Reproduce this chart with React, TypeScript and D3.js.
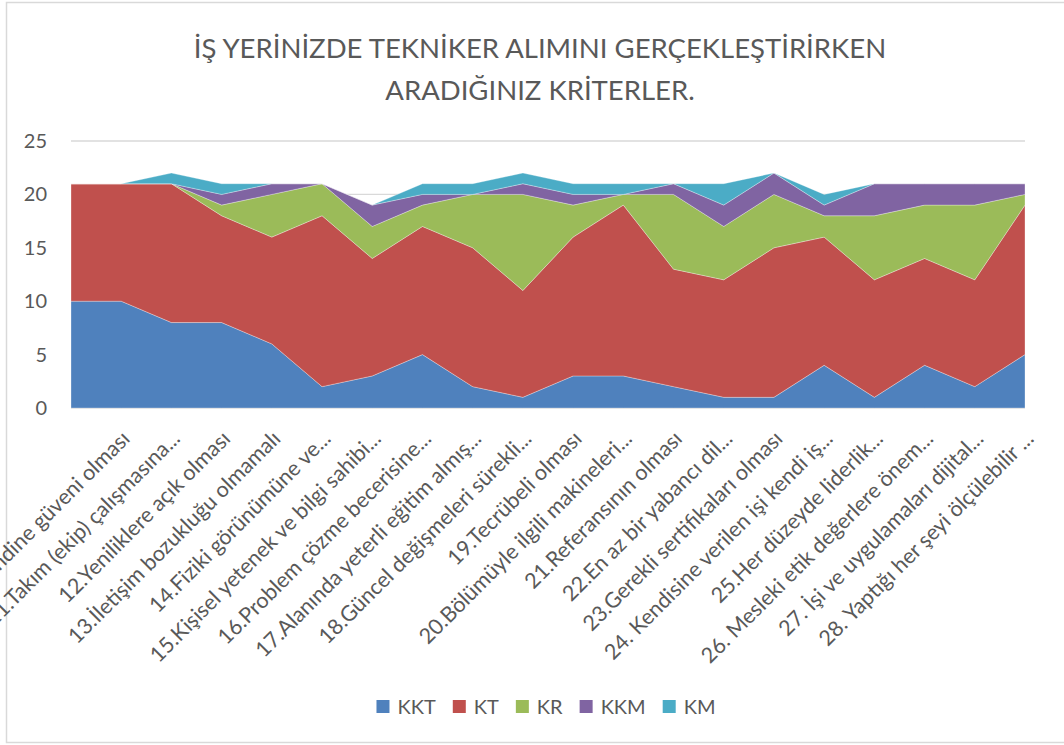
import React from "react";
import * as d3 from "d3";

const categories = [
  "",
  "10.Kendine güveni olması",
  "11.Takım (ekip) çalışmasına...",
  "12.Yeniliklere açık olması",
  "13.İletişim bozukluğu olmamalı",
  "14.Fiziki görünümüne ve...",
  "15.Kişisel yetenek ve bilgi sahibi...",
  "16.Problem çözme becerisine...",
  "17.Alanında yeterli eğitim almış...",
  "18.Güncel değişmeleri sürekli...",
  "19.Tecrübeli olması",
  "20.Bölümüyle ilgili makineleri...",
  "21.Referansının olması",
  "22.En az bir yabancı dil...",
  "23.Gerekli sertifikaları olması",
  "24. Kendisine verilen işi kendi iş...",
  "25.Her düzeyde liderlik...",
  "26. Mesleki etik değerlere önem...",
  "27. İşi ve uygulamaları dijital...",
  "28. Yaptığı her şeyi ölçülebilir ...",
];

const KKT = [10, 10, 8, 8, 6, 2, 3, 5, 2, 1, 3, 3, 2, 1, 1, 4, 1, 4, 2, 5];
const KT = [11, 11, 13, 10, 10, 16, 11, 12, 13, 10, 13, 16, 11, 11, 14, 12, 11, 10, 10, 14];
const KR = [0, 0, 0, 1, 4, 3, 3, 2, 5, 9, 3, 1, 7, 5, 5, 2, 6, 5, 7, 1];
const KKM = [0, 0, 0, 1, 1, 0, 2, 1, 0, 1, 1, 0, 1, 2, 2, 1, 3, 2, 2, 1];
const KM = [0, 0, 1, 1, 0, 0, 0, 1, 1, 1, 1, 1, 0, 2, 0, 1, 0, 0, 0, 0];

const seriesNames = ["KKT", "KT", "KR", "KKM", "KM"];
const seriesValues = [KKT, KT, KR, KKM, KM];
const colors = ["#4F81BD", "#C0504D", "#9BBB59", "#8064A2", "#4BACC6"];
const yTicks = [0, 5, 10, 15, 20, 25];
const titleLines = ["İŞ YERİNİZDE TEKNİKER ALIMINI GERÇEKLEŞTİRİRKEN", "ARADIĞINIZ KRİTERLER."];

const W = 1064;
const H = 745;
const FONT = "Lato, 'Open Sans', sans-serif";
const TXT = "#595959";

function measure(text: string, size: number) {
  const c = document.createElement("canvas");
  const ctx = c.getContext("2d");
  if (!ctx) return text.length * size * 0.55;
  ctx.font = `${size}px Lato`;
  return ctx.measureText(text).width;
}

export default function App() {
  const rows = categories.map((c, i) => {
    const r: any = { cat: i };
    seriesNames.forEach((s, j) => (r[s] = seriesValues[j][i]));
    return r;
  });
  const stack = d3.stack<any>().keys(seriesNames)(rows);

  const x = d3.scaleLinear().domain([0, categories.length - 1]).range([71, 1025]);
  const y = d3.scaleLinear().domain([0, 25]).range([408, 141]);

  const area = d3
    .area<any>()
    .x((d) => x(d.data.cat))
    .y0((d) => y(d[0]))
    .y1((d) => y(d[1]));

  // legend layout
  const legSize = 20;
  const sq = 13;
  const gapSq = 8;
  const gapItem = 17;
  const widths = seriesNames.map((s) => measure(s, legSize));
  const total = widths.reduce((a, w) => a + sq + gapSq + w, 0) + gapItem * (seriesNames.length - 1);
  let cursor = 546 - total / 2;
  const legendItems = seriesNames.map((s, i) => {
    const it = { s, x: cursor, color: colors[i] };
    cursor += sq + gapSq + widths[i] + gapItem;
    return it;
  });

  return (
    <svg
      width={W}
      height={H}
      style={{ position: "absolute", left: 0, top: 0, background: "#fff" }}
      fontFamily={FONT}
    >
      <rect x={6.5} y={2.5} width={1080} height={740} fill="#fff" stroke="#d9d9d9" strokeWidth={1.5} />
      {titleLines.map((t, i) => (
        <text key={i} x={540} y={58 + i * 42} textAnchor="middle" fontSize={27.5} fill={TXT}>
          {t}
        </text>
      ))}
      {yTicks.map((t) => (
        <g key={t}>
          <line x1={71} x2={1025} y1={y(t)} y2={y(t)} stroke="#d9d9d9" strokeWidth={1.3} />
          <text x={47} y={y(t)} dy="0.35em" textAnchor="end" fontSize={20} fill={TXT}>
            {t}
          </text>
        </g>
      ))}
      {stack.map((s, i) => (
        <path key={s.key} d={area(s as any) || ""} fill={colors[i]} stroke="#ffffff" strokeOpacity={0.5} strokeWidth={0.6} />
      ))}
      {categories.map((c, i) => (
        <text
          key={i}
          transform={`translate(${x(i) + 10},${440}) rotate(-45)`}
          textAnchor="end"
          fontSize={21.5}
          fill={TXT}
        >
          {c}
        </text>
      ))}
      {legendItems.map((it) => (
        <g key={it.s}>
          <rect x={it.x} y={700} width={sq} height={sq} fill={it.color} />
          <text x={it.x + sq + gapSq} y={713.5} fontSize={legSize} fill={TXT}>
            {it.s}
          </text>
        </g>
      ))}
    </svg>
  );
}
